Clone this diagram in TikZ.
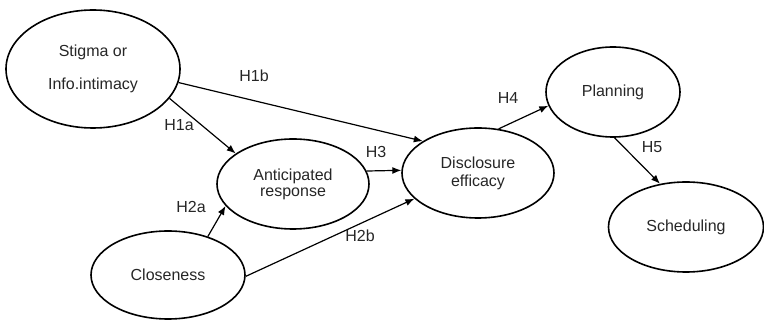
\documentclass[tikz,border=0pt]{standalone}
\usepackage{fontspec}
\setmainfont{Liberation Sans}
\usetikzlibrary{shapes.geometric,arrows.meta}
\begin{document}
\begin{tikzpicture}[x=1pt,y=-1pt,
  construct/.style={draw,ellipse,line width=1.6pt,inner sep=0pt,align=center,
    font=\fontsize{16}{18}\selectfont,text=black!85},
  path/.style={line width=1.2pt,-{Latex[length=9pt,width=7pt]}},
  hyp/.style={font=\fontsize{16}{18}\selectfont,text=black!85}]
\useasboundingbox (0,0) rectangle (764,320);
\node[construct,minimum width=174pt,minimum height=118pt] (stig) at (93,69) {Stigma or\\[15pt]Info.intimacy};
\node[construct,minimum width=152pt,minimum height=90pt] (anti) at (293,184) {Anticipated\\[-2pt]response};
\node[construct,minimum width=154pt,minimum height=88pt] (clos) at (168,275) {Closeness};
\node[construct,minimum width=152pt,minimum height=90pt] (disc) at (478,173) {Disclosure\\efficacy};
\node[construct,minimum width=134pt,minimum height=90pt] (plan) at (613,92) {Planning};
\node[construct,minimum width=155pt,minimum height=90pt] (sched) at (686,227) {Scheduling};
\draw[path] (stig.-9) -- (disc.150);
\draw[path] (stig.-21) -- (anti.152);
\draw[path] (anti.10) -- (disc.178);
\draw[path] (clos.44) -- (anti.198);
\draw[path] (clos.-1) -- (disc.202);
\draw[path] (disc.65) -- (plan.192);
\draw[path] (plan.-88) -- (sched.121);
\node[hyp] (h1b) at (254,76) {H1b};
\node[hyp] (h1a) at (179,125) {H1a};
\node[hyp] (h3) at (376,152) {H3};
\node[hyp] (h2a) at (191,207) {H2a};
\node[hyp] (h2b) at (360,236) {H2b};
\node[hyp] (h4) at (508,98) {H4};
\node[hyp] (h5) at (652,147) {H5};
\end{tikzpicture}
\end{document}
